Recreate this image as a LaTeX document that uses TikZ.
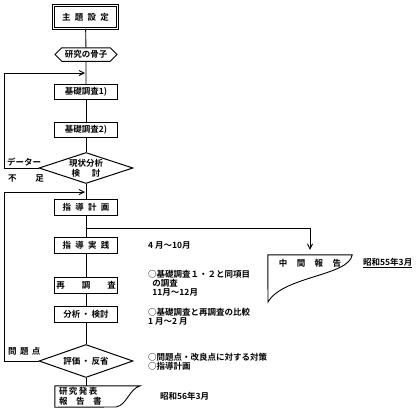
\documentclass[tikz,border=0pt]{standalone}
\usepackage{fontspec}
\setmainfont{Noto Sans CJK JP}[BoldFont=Noto Sans CJK JP Bold]
\usetikzlibrary{positioning}
\usetikzlibrary{shapes}
\usetikzlibrary{arrows.meta}

\tikzset{
  flowbox/.style={draw, line width=1pt, rectangle, minimum width=63pt, minimum height=15.5pt, inner sep=0pt, font=\fontsize{8.5}{9}\selectfont\bfseries},
  decide/.style={draw, line width=1pt, diamond, aspect=3, inner sep=0pt, minimum width=94pt, align=center, font=\fontsize{8.5}{10}\selectfont\bfseries},
  note/.style={anchor=west, inner sep=0pt, align=left, font=\fontsize{8.5}{8.8}\selectfont\bfseries},
  link/.style={line width=0.9pt},
  back/.style={line width=0.9pt, -{Straight Barb[length=5pt,width=5pt]}, shorten >=1pt},
}

\begin{document}
\begin{tikzpicture}[x=1pt,y=1pt,yscale=-1,xscale=1]
\useasboundingbox (0,0) rectangle (420,416);

%Shape: Double Rectangle [id:theme]
\node [flowbox, double, double distance=1.4pt, minimum width=63.5pt, minimum height=22.5pt] (theme) at (85.5,17) {主\enspace 題\enspace 設\enspace 定};
%Shape: Hexagon [id:core]
\node [draw, line width=1pt, signal, signal to=west and east, minimum width=62pt, minimum height=13.5pt, inner sep=0pt, font=\fontsize{8.5}{9}\selectfont\bfseries] (core) at (86,54.5) {研究の骨子};
%Shape: Rectangle [id:base1]
\node [flowbox] (base1) at (86,92) {基礎調査1)};
%Shape: Rectangle [id:base2]
\node [flowbox] (base2) at (86,130) {基礎調査2)};
%Shape: Diamond [id:status]
\node [decide, minimum height=31pt] (status) at (86,168) {現状分析\\検\hspace{1.4em}討};
%Shape: Rectangle [id:plan]
\node [flowbox] (plan) at (86,207.5) {指\enspace 導\enspace 計\enspace 画};
%Shape: Rectangle [id:practice]
\node [flowbox] (practice) at (86,245.5) {指\enspace 導\enspace 実\enspace 践};
%Shape: Rectangle [id:resurvey]
\node [flowbox] (resurvey) at (86,285.5) {再\hspace{2em}調\hspace{2em}査};
%Shape: Rectangle [id:analysis]
\node [flowbox] (analysis) at (86,314.5) {分析\,・\,検討};
%Shape: Diamond [id:review]
\node [decide, minimum height=33pt] (review) at (86,361) {評価\,・\,反省};
%Shape: Document [id:report]
\node [inner sep=0pt, minimum width=85pt, minimum height=21pt, text width=77pt, align=left, font=\fontsize{8.5}{10}\selectfont\bfseries] (report) at (97.5,396.5) {研\,究\,発\,表\\報\hspace{1em}告\hspace{1em}書};
\draw [link] (report.north west) -- (report.north east) .. controls (129,389) and (127,405) .. (116,407) -- (report.south west) -- cycle ;
%Shape: Document [id:midrep]
\node [inner sep=0pt, minimum width=84pt, minimum height=16pt, font=\fontsize{8.5}{9}\selectfont\bfseries] (midrep) at (310,263) {中\hspace{1.1em}間\hspace{1.1em}報\hspace{1.1em}告};
\draw [link] (midrep.north west) -- (midrep.north east) .. controls (349,276) and (283,276) .. (268,302) -- cycle ;

%Straight Lines
\draw [link] (theme) -- (core);
\draw [link] (core) -- (base1);
\draw [link] (base1) -- (base2);
\draw [link] (base2) -- (status);
\draw [link] (status) -- (plan);
\draw [link] (plan) -- (practice);
\draw [link] (practice) -- (resurvey);
\draw [link] (resurvey) -- (analysis);
\draw [link] (analysis) -- (review);
\draw [link] (review) -- (review.south |- report.north);

%Arrows
\coordinate (fork) at (86,228);
\draw [back, shorten >=5pt] (fork) -| (midrep.north);
\coordinate (loopin1) at (86,73);
\draw [back] (status.west) -- ++(-34,0) |- (loopin1);
\coordinate (loopin2) at (86,192);
\draw [back] (review.west) -- ++(-34,0) |- (loopin2);

% Text Node
\node [note] (lack1) at (7,162) {データー};
% Text Node
\node [note] (lack2) at (8,178) {不\hspace{2.2em}足};
% Text Node
\node [note] (issue) at (8,351) {問\hspace{0.4em}題\hspace{0.4em}点};
% Text Node
\node [note] (period1) at (148,245.5) {4 月～10月};
% Text Node
\node [note, anchor=north west] (note1) at (148,270.5) {○基礎調査１・２と同項目\\\hspace{0.5em}の調査\\\hspace{0.5em}11月～12月};
% Text Node
\node [note, anchor=north west] (note2) at (148,308.5) {○基礎調査と再調査の比較\\1 月～2 月};
% Text Node
\node [note, anchor=north west] (note3) at (148,353.5) {○問題点・改良点に対する対策\\○指導計画};
% Text Node
\node [note] (date2) at (160,396) {昭和56年3月};
% Text Node
\node [note] (date1) at (363,263) {\underline{昭和55年3月}};

\end{tikzpicture}
\end{document}
